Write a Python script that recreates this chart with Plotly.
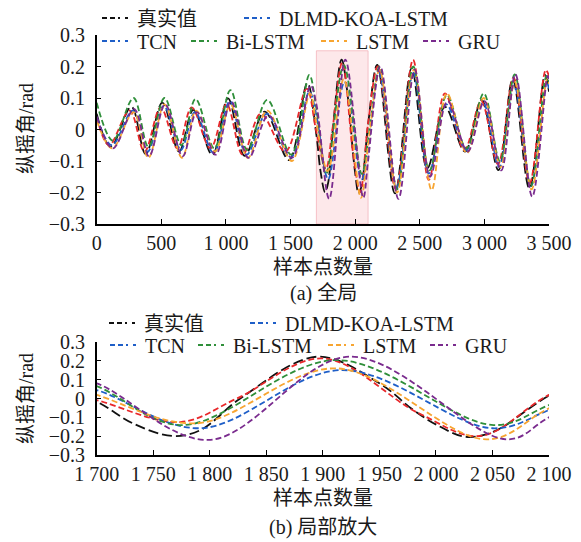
import plotly.graph_objects as go

W, H = 581, 542
OFF = 8  # page body margin offset
FW, FH = W - OFF, H - OFF

# ---------------- data ----------------
x_true = [0, 108, 268, 379, 508, 637, 748, 895, 1016, 1145, 1300, 1488, 1630, 1700, 1732, 1767, 1792, 1827,
          1895, 1950, 1980, 2001, 2026, 2051, 2100, 2171, 2308, 2437, 2558, 2695, 2850, 2979, 3108, 3219,
          3348, 3469, 3500]
y_true = [0.05, -0.055, 0.072, -0.078, 0.085, -0.07, 0.062, -0.081, 0.099, -0.084, 0.057, -0.097, 0.147,
          -0.017, -0.132, -0.199, -0.167, 0.0, 0.222, 0.081, -0.061, -0.141, -0.203, -0.176, 0.015, 0.205,
          -0.203, 0.194, -0.123, 0.072, -0.07, 0.094, -0.129, 0.159, -0.187, 0.173, 0.12]

x_dlmd = [0, 95, 255, 370, 495, 625, 735, 880, 1005, 1130, 1270, 1460, 1625, 1700, 1774, 1824, 1900, 1985,
          2039, 2100, 2175, 2315, 2448, 2570, 2695, 2845, 2975, 3105, 3225, 3350, 3475, 3500]
y_dlmd = [0.04, -0.05, 0.06, -0.07, 0.07, -0.06, 0.07, -0.06, 0.08, -0.08, 0.05, -0.07, 0.13, -0.008,
          -0.125, 0.0, 0.213, -0.079, -0.199, 0.019, 0.2, -0.19, 0.221, -0.16, 0.115, -0.065, 0.09, -0.11,
          0.165, -0.17, 0.189, 0.17]

x_tcn = [0, 118, 280, 395, 520, 650, 760, 905, 1030, 1160, 1315, 1500, 1645, 1700, 1791, 1917, 2050, 2100,
         2185, 2320, 2450, 2570, 2705, 2860, 2990, 3115, 3230, 3360, 3480, 3500]
y_tcn = [0.04, -0.05, 0.06, -0.07, 0.075, -0.065, 0.055, -0.075, 0.09, -0.08, 0.05, -0.09, 0.12, 0.045,
         -0.158, 0.151, -0.158, -0.061, 0.18, -0.185, 0.18, -0.14, 0.08, -0.065, 0.085, -0.12, 0.14, -0.18,
         0.15, 0.13]

x_bilstm = [0, 125, 285, 400, 525, 655, 765, 910, 1035, 1165, 1320, 1505, 1645, 1700, 1775, 1912, 2051,
            2100, 2190, 2325, 2450, 2575, 2710, 2860, 2995, 3120, 3235, 3360, 3480, 3500]
y_bilstm = [0.085, -0.035, 0.1, -0.055, 0.1, -0.05, 0.097, -0.06, 0.125, -0.065, 0.094, -0.08, 0.173,
            0.066, -0.141, 0.204, -0.141, -0.035, 0.2, -0.19, 0.2, -0.13, 0.11, -0.06, 0.115, -0.1, 0.175,
            -0.18, 0.17, 0.15]

x_lstm = [0, 120, 285, 400, 525, 660, 770, 915, 1035, 1170, 1320, 1510, 1650, 1700, 1788, 1912, 2045,
          2100, 2190, 2325, 2455, 2592, 2710, 2865, 2995, 3125, 3235, 3365, 3485, 3500]
y_lstm = [0.03, -0.06, 0.055, -0.09, 0.08, -0.09, 0.06, -0.07, 0.08, -0.09, 0.06, -0.1, 0.115, 0.019,
          -0.132, 0.16, -0.217, -0.052, 0.19, -0.2, 0.19, -0.192, 0.115, -0.075, 0.1, -0.12, 0.15, -0.19,
          0.16, 0.145]

x_gru = [0, 125, 290, 405, 530, 665, 775, 920, 1040, 1175, 1330, 1510, 1655, 1700, 1799, 1924, 2063, 2100,
         2195, 2335, 2460, 2580, 2715, 2870, 3000, 3130, 3240, 3370, 3490, 3500]
y_gru = [0.04, -0.06, 0.065, -0.085, 0.08, -0.085, 0.055, -0.08, 0.09, -0.09, 0.045, -0.09, 0.14, 0.08,
         -0.22, 0.222, -0.217, -0.1, 0.2, -0.22, 0.19, -0.15, 0.09, -0.07, 0.09, -0.13, 0.175, -0.213,
         0.17, 0.16]

names = ["真实值", "DLMD-KOA-LSTM", "TCN", "Bi-LSTM", "LSTM", "GRU"]

zoom_range = [1700, 2100]
zoom_box_top = 0.25

x_ticks_full = [0, 500, 1000, 1500, 2000, 2500, 3000, 3500]
x_ticktext_full = ["0", "500", "1 000", "1 500", "2 000", "2 500", "3 000", "3 500"]
x_ticks_zoom = [1700, 1750, 1800, 1850, 1900, 1950, 2000, 2050, 2100]
x_ticktext_zoom = ["1 700", "1 750", "1 800", "1 850", "1 900", "1 950", "2 000", "2 050", "2 100"]
y_ticks = [-0.3, -0.2, -0.1, 0, 0.1, 0.2, 0.3]
y_ticktext = ["−0.3", "−0.2", "−0.1", "0", "0.1", "0.2", "0.3"]

# ---------------- style ----------------
FONT = "Liberation Serif, Noto Sans CJK SC, serif"
TXT = "#1a1a1a"
plot_series = [
    (x_true, y_true, "#111111", "10px,4px"),
    (x_dlmd, y_dlmd, "#e8282b", "6px,3px"),
    (x_tcn, y_tcn, "#1f5fc8", "6px,3px"),
    (x_bilstm, y_bilstm, "#2f8f3a", "6px,3px"),
    (x_lstm, y_lstm, "#f7a531", "6px,3px"),
    (x_gru, y_gru, "#7a2b8e", "6px,3px"),
]
legend_colors = ["#111111", "#1f5fc8", "#1f5fc8", "#2f8f3a", "#f7a531", "#7a2b8e"]
legend_dash = "5px,3px,5px,3px,2px"


def px_x(p):
    return (p - OFF) / FW


def px_y(p):
    return 1 - (p - OFF) / FH


fig = go.Figure()

for panel, (xa, ya) in enumerate([("x", "y"), ("x2", "y2")]):
    for i, (xs, ys, col, dash) in enumerate(plot_series):
        fig.add_trace(go.Scatter(
            x=xs, y=ys, mode="lines", xaxis=xa, yaxis=ya,
            line=dict(color=col, width=1.8, dash=dash, shape="spline", smoothing=1.0),
            showlegend=False, hoverinfo="skip"))
    for i, nm in enumerate(names):
        leg = "legend" if (panel == 0 and i == 0) else "legend%d" % (panel * 6 + i + 1)
        fig.add_trace(go.Scatter(
            x=[None], y=[None], mode="lines", xaxis=xa, yaxis=ya, name=nm,
            line=dict(color=legend_colors[i], width=1.8, dash=legend_dash),
            showlegend=True, legend=leg))

# legend placement (pixels: text start x, row centre y)
leg_pos_top = [(139, 18), (281, 18), (139, 41), (228, 41), (358, 41), (460, 41)]
leg_pos_bot = [(146, 323), (287, 323), (147, 345), (235, 345), (365, 345), (467, 345)]
lay = {}
for panel, pos in enumerate([leg_pos_top, leg_pos_bot]):
    for i, (tx, ty) in enumerate(pos):
        key = "legend" if (panel == 0 and i == 0) else "legend%d" % (panel * 6 + i + 1)
        lay[key] = dict(x=px_x(tx - 42), y=px_y(ty), xanchor="left", yanchor="middle",
                        xref="container", yref="container",
                        orientation="h", bgcolor="rgba(0,0,0,0)", borderwidth=0,
                        font=dict(family=FONT, size=20, color=TXT), itemwidth=30,
                        tracegroupgap=0)

axis_common = dict(showline=True, linecolor="#000", linewidth=1.5, ticks="inside", ticklen=5,
                   tickwidth=1.3, tickcolor="#000", showgrid=False, zeroline=False,
                   tickfont=dict(family=FONT, size=20, color=TXT), mirror=False, automargin=False)

xdom = [px_x(96.7), px_x(549)]
fig.update_layout(
    width=FW, height=FH, margin=dict(l=0, r=0, t=0, b=0, autoexpand=False),
    paper_bgcolor="white", plot_bgcolor="white",
    font=dict(family=FONT, size=20, color=TXT),
    xaxis=dict(domain=xdom, anchor="y", range=[0, 3500], tickmode="array",
               tickvals=x_ticks_full, ticktext=x_ticktext_full, **axis_common),
    yaxis=dict(domain=[px_y(224), px_y(35)], anchor="x", range=[-0.3, 0.3], tickmode="array",
               tickvals=y_ticks, ticktext=y_ticktext, ticklabelstandoff=6, **axis_common),
    xaxis2=dict(domain=xdom, anchor="y2", range=zoom_range, tickmode="array",
                tickvals=x_ticks_zoom, ticktext=x_ticktext_zoom, **axis_common),
    yaxis2=dict(domain=[px_y(455), px_y(342)], anchor="x2", range=[-0.3, 0.3], tickmode="array",
                tickvals=y_ticks, ticktext=y_ticktext, ticklabelstandoff=6, **axis_common),
    **lay,
)

fig.add_shape(type="rect", xref="x", yref="y", x0=zoom_range[0], x1=zoom_range[1],
              y0=-0.3, y1=zoom_box_top, fillcolor="rgba(248,190,195,0.35)",
              line=dict(color="rgba(240,160,170,0.6)", width=1), layer="below")


def ann(text, px, py, angle=0, size=20):
    fig.add_annotation(text=text, x=px_x(px), y=px_y(py), xref="paper", yref="paper",
                       showarrow=False, textangle=angle, xanchor="center", yanchor="middle",
                       font=dict(family=FONT, size=size, color=TXT))


ann("样本点数量", 323, 267)
ann("(a) 全局", 323, 293)
ann("样本点数量", 323, 498)
ann("(b) 局部放大", 323, 527)
ann("纵摇角/rad", 26, 129, angle=-90)
ann("纵摇角/rad", 26, 399, angle=-90)

fig.write_html("out.html")
